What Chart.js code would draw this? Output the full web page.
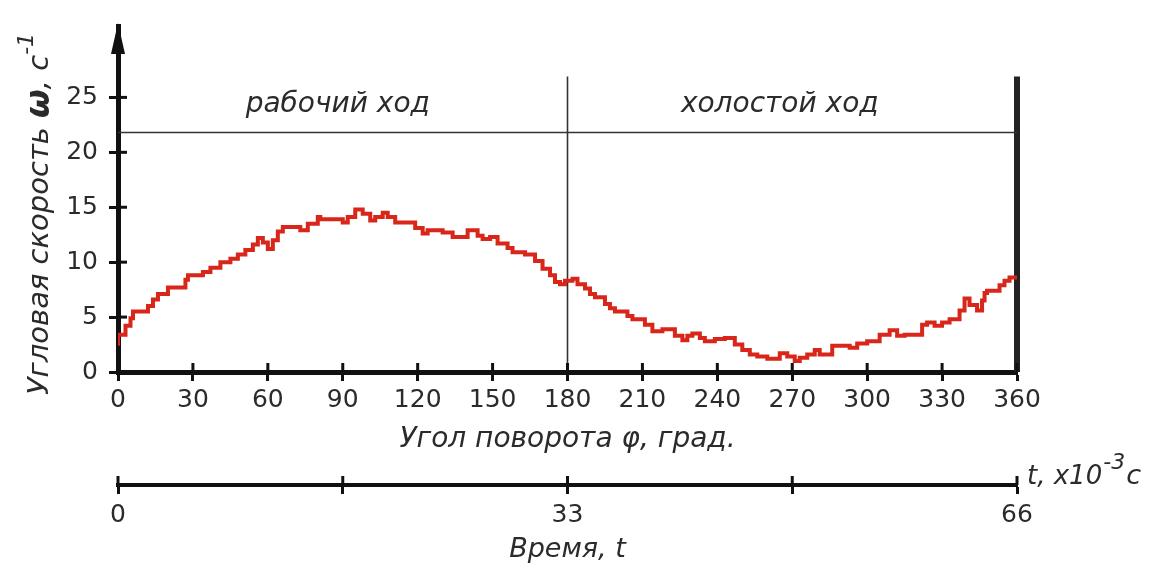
<!DOCTYPE html>
<html><head><meta charset="utf-8">
<script src="https://cdn.jsdelivr.net/npm/chart.js@4.4.1/dist/chart.umd.min.js"></script>
<style>html,body{margin:0;padding:0;background:#fff}#wrap{width:1150px;height:563px}</style>
</head><body><div id="wrap"><canvas id="c" width="1150" height="563"></canvas></div>
<script>
// ---- data ----
const angleDeg = [0,3,5,6,12,14,16,20,27,28,34,37,41,45,48,51,54,56,58,60,62,64,66,73,76,80,81,90,92,95,98,101,103,106,108,111,119,122,124,130,134,140,144,146,149,152,156,158,163,167,170,173,175,177,179,182,184,187,189,191,195,197,199,204,206,211,214,218,223,226,228,230,233,235,239,243,247,250,253,256,260,265,268,271,273,276,279,281,286,293,296,300,305,309,312,315,322,324,327,330,333,337,339,341,344,346,347,348,353,355,357,359,360];
const omega    = [2.4,3.4,4.2,4.9,5.5,6.0,6.6,7.1,7.7,8.4,8.8,9.1,9.5,10.0,10.3,10.7,11.1,11.6,12.2,11.8,11.2,12.0,12.8,13.2,12.9,13.5,14.1,13.9,13.6,14.1,14.8,14.4,13.8,14.1,14.5,14.1,13.6,13.1,12.6,12.9,12.7,12.3,12.9,12.4,12.1,12.3,11.7,11.3,10.9,10.7,10.1,9.4,8.8,8.2,8.0,8.3,8.5,8.0,7.6,7.1,6.8,6.2,5.8,5.5,5.1,4.8,4.3,3.7,3.9,3.3,2.9,3.3,3.5,3.1,2.8,3.0,3.1,2.5,2.0,1.6,1.4,1.2,1.7,1.4,1.0,1.3,1.6,2.0,1.6,2.4,2.2,2.6,2.8,3.4,3.8,3.3,3.4,4.3,4.5,4.2,4.5,4.8,5.6,6.7,6.1,5.6,6.5,7.2,7.4,7.9,8.3,8.6,8.6];
const angleTicks = [0,30,60,90,120,150,180,210,240,270,300,330,360];
const omegaTicks = [0,5,10,15,20,25];
const timeTicks = [0,16.5,33,49.5,66];
const timeTickLabels = ['0','','33','','66'];
const phaseLabels = ['рабочий ход','холостой ход'];
const phaseLabelAngles = [88,265];
const phaseLabelLevel = 24.3;
const idleLevel = 21.8;
const phaseBoundary = 180;
const cycleEnd = 360;
const markerTop = 26.9;

const FONT = 'DejaVu Sans';
const TXT = '#2b2b2b';
const AX = '#111';

function drawParts(ctx, parts, x, y) {
  parts.forEach(p => {
    ctx.font = p.font;
    ctx.fillText(p.text, x, y + (p.dy || 0));
    x += ctx.measureText(p.text).width + (p.gap || 0);
  });
}
function partsWidth(ctx, parts) {
  return parts.reduce((w, p) => { ctx.font = p.font; return w + ctx.measureText(p.text).width + (p.gap || 0); }, 0);
}

const tickCross = {
  id: 'tickCross',
  afterDraw(chart) {
    const ctx = chart.ctx;
    const xs = chart.scales.x, ys = chart.scales.y, ts = chart.scales.t;
    ctx.save();
    ctx.strokeStyle = AX; ctx.lineWidth = 3;
    xs.ticks.forEach(t => {
      const px = xs.getPixelForValue(t.value);
      ctx.beginPath(); ctx.moveTo(px, xs.top); ctx.lineTo(px, xs.top - 9); ctx.stroke();
    });
    ys.ticks.forEach(t => {
      const py = ys.getPixelForValue(t.value);
      ctx.beginPath(); ctx.moveTo(ys.right, py); ctx.lineTo(ys.right + 9, py); ctx.stroke();
    });
    ts.ticks.forEach(t => {
      const px = ts.getPixelForValue(t.value);
      ctx.beginPath(); ctx.moveTo(px, ts.top); ctx.lineTo(px, ts.top - 9); ctx.stroke();
    });
    // arrow on the y axis
    const ax = ys.right, top = chart.chartArea.top;
    ctx.fillStyle = AX;
    ctx.beginPath(); ctx.moveTo(ax, top - 3); ctx.lineTo(ax - 7, top + 28); ctx.lineTo(ax + 7, top + 28); ctx.closePath(); ctx.fill();
    // phase labels
    ctx.fillStyle = TXT;
    ctx.font = 'italic 28px "' + FONT + '"';
    ctx.textAlign = 'center'; ctx.textBaseline = 'middle';
    phaseLabels.forEach((s, i) => {
      ctx.fillText(s, xs.getPixelForValue(phaseLabelAngles[i]), ys.getPixelForValue(phaseLabelLevel));
    });
    // y axis title (rotated, with bold omega and superscript)
    const yParts = [
      {text: 'Угловая скорость ', font: 'italic 29px "' + FONT + '"'},
      {text: 'ω', font: 'italic bold 33px "' + FONT + '"'},
      {text: ', с', font: 'italic 29px "' + FONT + '"'},
      {text: '-1', font: 'italic 22px "' + FONT + '"', dy: -13}
    ];
    ctx.save();
    ctx.translate(40, 214); ctx.rotate(-Math.PI / 2);
    ctx.textAlign = 'left'; ctx.textBaseline = 'middle';
    drawParts(ctx, yParts, -partsWidth(ctx, yParts) / 2, 0);
    ctx.restore();
    // time axis unit
    const tParts = [
      {text: 't, x10', font: 'italic 26px "' + FONT + '"', gap: 1},
      {text: '-3', font: 'italic 22px "' + FONT + '"', dy: -15, gap: 1},
      {text: 'c', font: 'italic 27px "' + FONT + '"'}
    ];
    ctx.textAlign = 'left'; ctx.textBaseline = 'alphabetic';
    drawParts(ctx, tParts, ts.right + 10, ts.top - 1);
    ctx.restore();
  }
};

new Chart(document.getElementById('c'), {
  type: 'line',
  data: {
    datasets: [
      { data: angleDeg.map((a, i) => ({x: a, y: omega[i]})), borderColor: '#d8261b', borderWidth: 4, stepped: 'after', pointRadius: 0, fill: false },
      { data: [{x: 0, y: idleLevel}, {x: cycleEnd, y: idleLevel}], borderColor: '#333', borderWidth: 1.6, pointRadius: 0 },
      { data: [{x: phaseBoundary, y: 0}, {x: phaseBoundary, y: markerTop}], borderColor: '#333', borderWidth: 1.6, pointRadius: 0 },
      { data: [{x: cycleEnd, y: 0}, {x: cycleEnd, y: markerTop}], borderColor: '#222', borderWidth: 6, pointRadius: 0, clip: false }
    ]
  },
  options: {
    responsive: false, devicePixelRatio: 1, animation: false,
    layout: { padding: { top: 20, right: 133, bottom: 0, left: 55.2 } },
    plugins: { legend: { display: false }, tooltip: { enabled: false } },
    scales: {
      x: {
        type: 'linear', position: 'bottom', weight: 0, min: 0, max: 360,
        afterBuildTicks: s => { s.ticks = angleTicks.map(v => ({value: v})); },
        ticks: { font: { family: FONT, size: 25 }, color: TXT, padding: 4, maxRotation: 0, autoSkip: false },
        grid: { drawOnChartArea: false, drawTicks: true, tickLength: 9, tickWidth: 3, tickColor: AX },
        border: { display: true, width: 5, color: AX },
        title: { display: true, text: 'Угол поворота φ, град.', color: TXT, font: { family: FONT, size: 28, style: 'italic' }, padding: { top: 4.2, bottom: 28.2 } }
      },
      t: {
        type: 'linear', position: 'bottom', weight: 1, min: 0, max: 66,
        afterBuildTicks: s => { s.ticks = timeTicks.map(v => ({value: v})); },
        ticks: { font: { family: FONT, size: 25, lineHeight: 1 }, color: TXT, padding: 8.5, maxRotation: 0, autoSkip: false, callback: (v, i) => timeTickLabels[i] },
        grid: { drawOnChartArea: false, drawTicks: true, tickLength: 9, tickWidth: 3, tickColor: AX },
        border: { display: true, width: 4, color: AX },
        title: { display: true, text: 'Время, t', color: TXT, font: { family: FONT, size: 27, style: 'italic', lineHeight: 1 }, padding: { top: 0, bottom: 0 } }
      },
      y: {
        type: 'linear', position: 'left', min: 0, max: 31.5,
        afterBuildTicks: s => { s.ticks = omegaTicks.map(v => ({value: v})); },
        ticks: { font: { family: FONT, size: 25 }, color: TXT, padding: 11 },
        grid: { drawOnChartArea: false, drawTicks: true, tickLength: 9, tickWidth: 3, tickColor: AX },
        border: { display: true, width: 5, color: AX },
        title: { display: false }
      }
    }
  },
  plugins: [tickCross]
});
</script></body></html>
